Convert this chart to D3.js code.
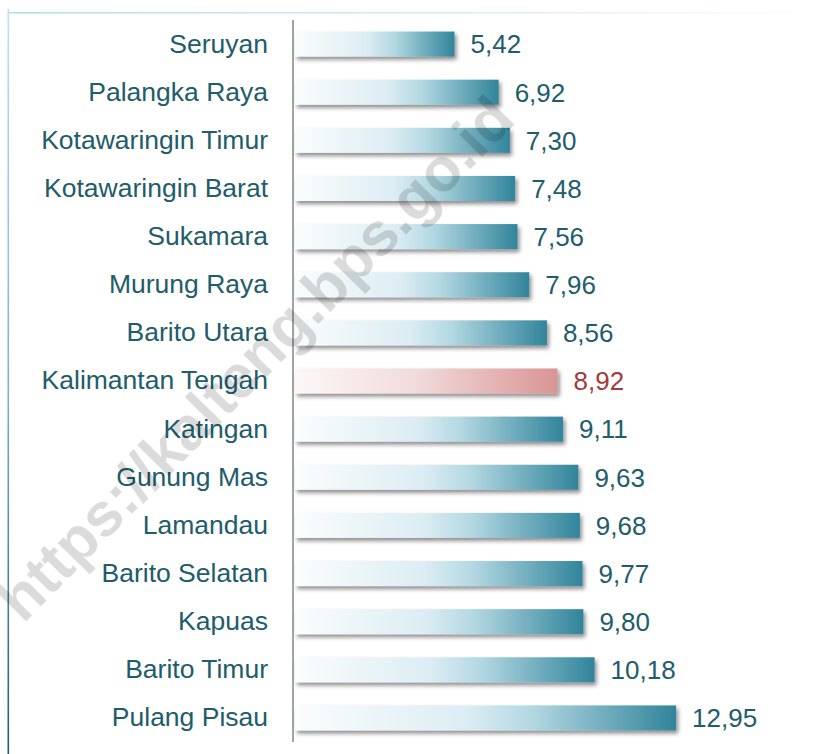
<!DOCTYPE html>
<html>
<head>
<meta charset="utf-8">
<script src="https://cdn.jsdelivr.net/npm/d3@7"></script>
<style>
  html, body { margin: 0; padding: 0; background: #fff; }
  svg { display: block; }
</style>
</head>
<body>
<script>
const regions = [
    'Seruyan', 'Palangka Raya', 'Kotawaringin Timur', 'Kotawaringin Barat',
    'Sukamara', 'Murung Raya', 'Barito Utara', 'Kalimantan Tengah',
    'Katingan', 'Gunung Mas', 'Lamandau', 'Barito Selatan',
    'Kapuas', 'Barito Timur', 'Pulang Pisau'
];
const values = [5.42, 6.92, 7.30, 7.48, 7.56, 7.96, 8.56, 8.92, 9.11, 9.63, 9.68, 9.77, 9.80, 10.18, 12.95];
const highlight = 'Kalimantan Tengah';

const width = 814, height = 754;
const fmt = d => d.toFixed(2).replace('.', ',');

const svg = d3.select('body').append('svg')
    .attr('width', width)
    .attr('height', height);

const defs = svg.append('defs');

function grad(id, stops, x2 = '100%', y2 = '0%') {
    const g = defs.append('linearGradient').attr('id', id)
        .attr('x1', '0%').attr('y1', '0%').attr('x2', x2).attr('y2', y2);
    g.selectAll('stop').data(stops).enter().append('stop')
        .attr('offset', d => d[0])
        .attr('stop-color', d => d[1]);
}
grad('teal', [[0, '#fafdfe'], [0.45, '#dcedf3'], [0.62, '#b3d8e2'], [1, '#31849b']]);
grad('red', [[0, '#fdf7f7'], [0.45, '#f2dcdc'], [1, '#d99594']]);
grad('frameLeft', [[0, '#bfe1ea'], [0.5, '#7fb3c2'], [1, '#215d6b']], '0%', '100%');
grad('frameTop', [[0, '#b7dde8'], [0.6, '#dcedf3'], [1, '#ffffff']]);

defs.append('filter').attr('id', 'shadow')
    .attr('x', '-5%').attr('y', '-30%').attr('width', '115%').attr('height', '180%')
  .append('feDropShadow')
    .attr('dx', 2).attr('dy', 3)
    .attr('stdDeviation', 2)
    .attr('flood-color', '#000')
    .attr('flood-opacity', 0.45);

// frame
svg.append('rect')
    .attr('x', 7.5).attr('y', 9).attr('width', 1.6).attr('height', height - 9)
    .attr('fill', 'url(#frameLeft)');
svg.append('rect')
    .attr('x', 8).attr('y', 12).attr('width', 800).attr('height', 1.6)
    .attr('fill', 'url(#frameTop)');

const x = d3.scaleLinear().domain([0, 14]).range([295, 707]);
const y = d3.scaleBand().domain(regions).range([20, 742]).paddingInner(0.48).paddingOuter(0.24);

const font = "'Liberation Sans', Arial, sans-serif";
const textColor = '#215c6a';

// bars
svg.selectAll('rect.bar')
    .data(regions).enter()
    .append('rect')
        .attr('class', 'bar')
        .attr('x', x(0))
        .attr('y', d => y(d))
        .attr('width', (d, i) => x(values[i]) - x(0))
        .attr('height', y.bandwidth())
        .attr('fill', d => d === highlight ? 'url(#red)' : 'url(#teal)')
        .attr('filter', 'url(#shadow)');

// value labels
svg.selectAll('text.value')
    .data(regions).enter()
    .append('text')
        .attr('class', 'value')
        .attr('x', (d, i) => x(values[i]) + 16)
        .attr('y', d => y(d) + y.bandwidth() / 2)
        .attr('dy', '0.36em')
        .attr('font-family', font)
        .attr('font-size', 26)
        .attr('fill', d => d === highlight ? '#a33b3b' : textColor)
        .text((d, i) => fmt(values[i]));

// category axis
const axis = svg.append('g')
    .attr('transform', 'translate(293,0)')
    .call(d3.axisLeft(y).tickSize(0).tickPadding(25));
axis.select('.domain').remove();
axis.append('line')
    .attr('x1', 0).attr('x2', 0).attr('y1', 20).attr('y2', 742)
    .attr('stroke', '#8c8c8c').attr('stroke-width', 1.6);
axis.selectAll('.tick text')
    .attr('font-family', font)
    .attr('font-size', 26.5)
    .attr('fill', textColor);

// watermark
svg.append('text')
    .attr('transform', 'translate(255,358) rotate(-45.5)')
    .attr('text-anchor', 'middle')
    .attr('dy', '0.35em')
    .attr('font-family', font)
    .attr('font-weight', 'bold')
    .attr('font-size', 61)
    .attr('fill', '#000')
    .attr('fill-opacity', 0.14)
    .text('https://kalteng.bps.go.id');
</script>
</body>
</html>
